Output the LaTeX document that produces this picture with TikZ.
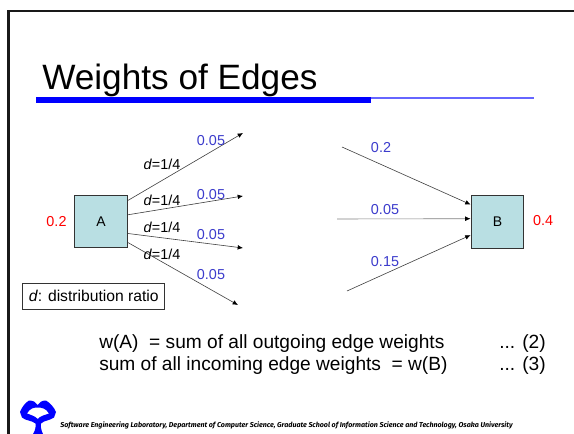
\documentclass[tikz,border=0pt]{standalone}
\usepackage{fontspec}
\setmainfont{Liberation Sans}
\newfontfamily\footfont{Fira Sans}
\usetikzlibrary{arrows.meta}
\definecolor{boxfill}{HTML}{B9DFE3}
\definecolor{wblue}{HTML}{3C3CCC}
\tikzset{
  px/.style={x=0.75pt,y=-0.75pt},
  vbox/.style={draw=black!80,line width=0.9pt,fill=boxfill,minimum size=39.5pt,inner sep=0pt,font=\fontsize{10.5}{12}\selectfont},
  edgeline/.style={draw=black!75,line width=0.45pt,-{Latex[length=4pt,width=3.5pt,color=black]}},
  wlabel/.style={text=wblue,font=\fontsize{10.8}{12}\selectfont,inner sep=0pt},
  rlabel/.style={text=red,font=\fontsize{10.8}{12}\selectfont,inner sep=0pt},
  dlabel/.style={text=black,font=\fontsize{10.8}{12}\selectfont,inner sep=0pt},
  body/.style={anchor=base west,inner sep=0pt,font=\fontsize{14.35}{16}\selectfont},
}
\begin{document}
\begin{tikzpicture}[px]
\useasboundingbox (0,0) rectangle (574,434);
\fill[white] (0,0) rectangle (574,434);
% slide frame
\draw[line width=1.6pt,black!90] (8.5,434) -- (8.5,11) -- (574,11);
% title and rules
\node[anchor=base west,inner sep=0pt,font=\fontsize{26.4}{30}\selectfont] (title) at (42,89.5) {Weights of Edges};
\fill[blue] (36,97.3) rectangle (371,102.7);
\fill[blue!60!white] (371,97) rectangle (534,99);
% vertices
\node[vbox] (A) at (101,221.5) {A};
\node[vbox] (B) at (497.5,222) {B};
% free ends
\coordinate (a1) at (243,133);
\coordinate (a2) at (243,196);
\coordinate (a3) at (243,248);
\coordinate (a4) at (238,305);
\coordinate (b1) at (342,147);
\coordinate (b2) at (337,219);
\coordinate (b3) at (347,291);
% edges
\draw[edgeline] (A.38.5) -- (a1);
\draw[edgeline] (A.14.5) -- (a2);
\draw[edgeline] (A.-24.8) -- (a3);
\draw[edgeline] (A.-38.5) -- (a4);
\draw[edgeline] (b1) -- (B.147.3);
\draw[edgeline,draw=black!50] (b2) -- (B.173.5);
\draw[edgeline] (b3) -- (B.206);
% labels
\node[wlabel] (w1) at (211,141) {0.05};
\node[wlabel] (w2) at (211,195) {0.05};
\node[wlabel] (w3) at (211,235) {0.05};
\node[wlabel] (w4) at (211,275) {0.05};
\node[dlabel] (d1) at (162,164) {\textit{d}=1/4};
\node[dlabel] (d2) at (162,200) {\textit{d}=1/4};
\node[dlabel] (d3) at (162,227) {\textit{d}=1/4};
\node[dlabel] (d4) at (162,254) {\textit{d}=1/4};
\node[rlabel] (ra) at (56.5,222) {0.2};
\node[rlabel] (rb) at (543,220.5) {0.4};
\node[wlabel] (v1) at (381,148) {0.2};
\node[wlabel] (v2) at (385,210) {0.05};
\node[wlabel] (v3) at (385,262) {0.15};
\node[draw=black!80,line width=0.5pt,fill=white,minimum width=106.5pt,minimum height=19.5pt,inner sep=0pt,font=\fontsize{11.75}{13}\selectfont] (legend) at (93.7,296) {\textit{d}: distribution ratio};
% equations
\node[body] (e1) at (99,348) {w(A)\ \ = sum of all outgoing edge weights};
\node[body] (e1n) at (499,348) {... (2)};
\node[body] (e2) at (99,370) {sum of all incoming edge weights\ \ = w(B)};
\node[body] (e2n) at (499,370) {... (3)};
% logo
\fill[blue,even odd rule]
  (33,434) .. controls (35.5,430) and (36,426) .. (35.5,423.5)
  .. controls (31,420) and (26,421) .. (22,417.5)
  -- (20,412) .. controls (22,407) and (25,403) .. (29,400.5)
  .. controls (33,400.5) and (36,402) .. (37.7,405)
  .. controls (39.5,402) and (42,400.5) .. (46,400.5)
  .. controls (50,403) and (54,407) .. (56,412)
  -- (54,417.5) .. controls (49,421) and (45,420) .. (41,423.5)
  .. controls (40.5,426) and (41,430) .. (43,434) -- cycle
  (37.7,407.5) .. controls (34,407.5) and (30,408) .. (27,413.5)
  .. controls (31,415) and (35,416) .. (37.7,419)
  .. controls (40,416) and (45,415) .. (49,413.5)
  .. controls (46,408) and (41,407.5) .. (37.7,407.5) -- cycle;
\node[anchor=base west,inner sep=0pt,font=\footfont\bfseries\itshape\fontsize{5.33}{6}\selectfont] (foot) at (60,427.5) {Software Engineering Laboratory, Department of Computer Science, Graduate School of Information Science and Technology, Osaka University};
\end{tikzpicture}
\end{document}
